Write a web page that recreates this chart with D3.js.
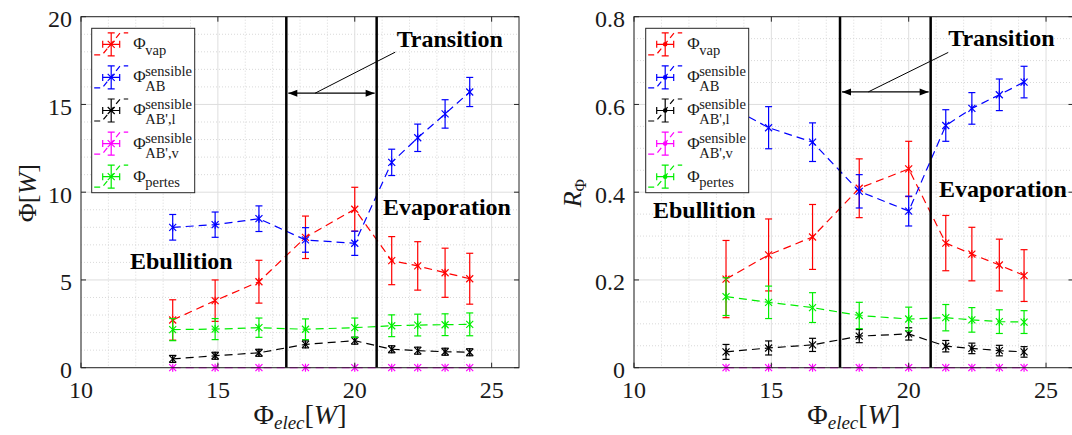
<!DOCTYPE html>
<html><head><meta charset="utf-8">
<script src="https://cdnjs.cloudflare.com/ajax/libs/d3/7.8.5/d3.min.js"></script>
<style>
body{margin:0;background:#fff}
svg{display:block}
text{fill:#1a1a1a}
</style>
</head><body>
<svg id="chart" width="1072" height="435" font-family="'Liberation Serif','Times New Roman','DejaVu Serif',serif"></svg>
<script>
// ---------- data ----------
const xElec = [13.35, 14.9, 16.5, 18.2, 20.0, 21.35, 22.3, 23.3, 24.2];

// left panel : Phi [W]
const phiVap       = [2.72, 3.82, 4.90, 7.43, 9.03, 6.10, 5.80, 5.41, 5.07];
const phiVapErr    = [1.15, 1.18, 1.22, 1.21, 1.25, 1.37, 1.38, 1.40, 1.45];
const phiAB        = [8.00, 8.15, 8.49, 7.28, 7.09, 11.70, 13.10, 14.46, 15.71];
const phiABErr     = [0.73, 0.72, 0.73, 0.70, 0.69, 0.75, 0.78, 0.81, 0.83];
const phiABl       = [0.50, 0.68, 0.85, 1.33, 1.54, 1.05, 0.97, 0.91, 0.88];
const phiABlErr    = [0.20, 0.20, 0.20, 0.20, 0.20, 0.20, 0.20, 0.20, 0.20];
const phiABv       = [0, 0, 0, 0, 0, 0, 0, 0, 0];
const phiABvErr    = [0, 0, 0, 0, 0, 0, 0, 0, 0];
const phiPertes    = [2.17, 2.20, 2.28, 2.19, 2.28, 2.39, 2.43, 2.45, 2.47];
const phiPertesErr = [0.63, 0.60, 0.55, 0.59, 0.55, 0.62, 0.62, 0.62, 0.65];

// right panel : R_Phi
const rVap       = [0.202, 0.257, 0.298, 0.409, 0.453, 0.284, 0.259, 0.234, 0.210];
const rVapErr    = [0.088, 0.082, 0.074, 0.067, 0.063, 0.063, 0.061, 0.059, 0.059];
const rAB        = [0.600, 0.547, 0.514, 0.402, 0.357, 0.552, 0.591, 0.622, 0.651];
const rABErr     = [0.050, 0.048, 0.044, 0.038, 0.034, 0.036, 0.036, 0.036, 0.036];
const rABl       = [0.036, 0.045, 0.052, 0.072, 0.077, 0.049, 0.044, 0.039, 0.036];
const rABlErr    = [0.017, 0.016, 0.015, 0.015, 0.014, 0.013, 0.012, 0.012, 0.012];
const rABv       = [0, 0, 0, 0, 0, 0, 0, 0, 0];
const rABvErr    = [0, 0, 0, 0, 0, 0, 0, 0, 0];
const rPertes    = [0.162, 0.149, 0.137, 0.119, 0.111, 0.114, 0.109, 0.105, 0.104];
const rPertesErr = [0.043, 0.037, 0.034, 0.030, 0.027, 0.030, 0.028, 0.027, 0.026];

const seriesColors = ["#ff0000", "#0000ff", "#000000", "#ff00ff", "#00ee00"];
const legendSup = ["", "sensible", "sensible", "sensible", ""];
const legendSub = ["vap", "AB", "AB',l", "AB',v", "pertes"];

const xDomain = [10, 26];
const xTicks = [10, 15, 20, 25];
const xTickLabels = ["10", "15", "20", "25"];
const yTicksLeft = [0, 5, 10, 15, 20];
const yTickLabelsLeft = ["0", "5", "10", "15", "20"];
const yTicksRight = [0, 0.2, 0.4, 0.6, 0.8];
const yTickLabelsRight = ["0", "0.2", "0.4", "0.6", "0.8"];
const transitionBounds = [17.5, 20.8];
const phaseLabels = ["Ebullition", "Transition", "Evaporation"];

// ---------- drawing ----------
const svg = d3.select("#chart");

function drawPanel(cfg) {
  const g = svg.append("g").attr("transform", `translate(${cfg.left},${cfg.top})`);
  const W = cfg.width, H = cfg.height;
  const x = d3.scaleLinear().domain(xDomain).range([0, W]);
  const y = d3.scaleLinear().domain([0, cfg.yMax]).range([H, 0]);

  // minor grid
  const xMinor = d3.range(11, 26).filter(v => v % 5 !== 0);
  g.selectAll(".xm").data(xMinor).join("line")
    .attr("x1", d => x(d)).attr("x2", d => x(d)).attr("y1", 0).attr("y2", H)
    .attr("stroke", "#cfcfcf").attr("stroke-width", 0.8).attr("stroke-dasharray", "1,2");
  g.selectAll(".ym").data(cfg.yMinor).join("line")
    .attr("x1", 0).attr("x2", W).attr("y1", d => y(d)).attr("y2", d => y(d))
    .attr("stroke", "#cfcfcf").attr("stroke-width", 0.8).attr("stroke-dasharray", "1,2");
  // major grid
  g.selectAll(".xg").data(xTicks).join("line")
    .attr("x1", d => x(d)).attr("x2", d => x(d)).attr("y1", 0).attr("y2", H)
    .attr("stroke", "#dedede").attr("stroke-width", 1);
  g.selectAll(".yg").data(cfg.yTicks).join("line")
    .attr("x1", 0).attr("x2", W).attr("y1", d => y(d)).attr("y2", d => y(d))
    .attr("stroke", "#dedede").attr("stroke-width", 1);

  // series
  cfg.series.forEach((s, k) => {
    const col = seriesColors[k];
    const pts = xElec.map((xv, i) => ({x: xv, y: s.v[i], e: s.e[i]}));
    g.append("path").datum(pts)
      .attr("d", d3.line().x(d => x(d.x)).y(d => y(d.y)))
      .attr("fill", "none").attr("stroke", col).attr("stroke-width", 1.2)
      .attr("stroke-dasharray", "8,5");
    const eb = g.append("g").attr("stroke", col).attr("stroke-width", 1.2).attr("fill", "none");
    pts.forEach(p => {
      if (p.e > 0) {
        const cx = x(p.x), y1 = y(p.y - p.e), y2 = y(p.y + p.e);
        eb.append("line").attr("x1", cx).attr("x2", cx).attr("y1", y1).attr("y2", y2);
        eb.append("line").attr("x1", cx - 3.5).attr("x2", cx + 3.5).attr("y1", y1).attr("y2", y1);
        eb.append("line").attr("x1", cx - 3.5).attr("x2", cx + 3.5).attr("y1", y2).attr("y2", y2);
      }
      const cx = x(p.x), cy = y(p.y), m = 3.5;
      eb.append("line").attr("x1", cx - m).attr("x2", cx + m).attr("y1", cy - m).attr("y2", cy + m);
      eb.append("line").attr("x1", cx - m).attr("x2", cx + m).attr("y1", cy + m).attr("y2", cy - m);
      eb.append("line").attr("x1", cx).attr("x2", cx).attr("y1", cy - m - 0.5).attr("y2", cy + m + 0.5);
    });
  });

  // transition lines
  g.selectAll(".tl").data(transitionBounds).join("line")
    .attr("x1", d => x(d)).attr("x2", d => x(d)).attr("y1", 0).attr("y2", H)
    .attr("stroke", "#000").attr("stroke-width", 2.5);

  // double arrow
  const ay = y(cfg.arrowY), ax1 = x(transitionBounds[0]) + 2, ax2 = x(transitionBounds[1]) - 2;
  g.append("line").attr("x1", ax1).attr("x2", ax2).attr("y1", ay).attr("y2", ay)
    .attr("stroke", "#000").attr("stroke-width", 1.2);
  g.append("path").attr("d", `M${ax1},${ay} l9,-3.5 l0,7 Z M${ax2},${ay} l-9,-3.5 l0,7 Z`).attr("fill", "#000");
  g.append("line")
    .attr("x1", x(cfg.pointer[0])).attr("y1", y(cfg.pointer[1]))
    .attr("x2", x(cfg.pointer[2])).attr("y2", y(cfg.pointer[3]))
    .attr("stroke", "#000").attr("stroke-width", 1);

  // phase labels
  cfg.labels.forEach((l, i) => {
    g.append("text").attr("x", x(l[0])).attr("y", y(l[1]))
      .attr("font-size", 24).attr("font-weight", "bold").style("fill", "#000")
      .text(phaseLabels[i]);
  });

  // box + ticks
  g.append("rect").attr("x", 0).attr("y", 0).attr("width", W).attr("height", H)
    .attr("fill", "none").attr("stroke", "#262626").attr("stroke-width", 1);
  const tk = g.append("g").attr("stroke", "#262626").attr("stroke-width", 1);
  xTicks.forEach(t => {
    tk.append("line").attr("x1", x(t)).attr("x2", x(t)).attr("y1", H).attr("y2", H - 5);
    tk.append("line").attr("x1", x(t)).attr("x2", x(t)).attr("y1", 0).attr("y2", 5);
  });
  cfg.yTicks.forEach(t => {
    tk.append("line").attr("x1", 0).attr("x2", 5).attr("y1", y(t)).attr("y2", y(t));
    tk.append("line").attr("x1", W).attr("x2", W - 5).attr("y1", y(t)).attr("y2", y(t));
  });

  // tick labels
  g.selectAll(".xt").data(xTicks).join("text")
    .attr("x", d => x(d)).attr("y", H + 30.5).attr("text-anchor", "middle")
    .attr("font-size", 24).text((d, i) => xTickLabels[i]);
  g.selectAll(".yt").data(cfg.yTicks).join("text")
    .attr("x", -9).attr("y", d => y(d) + 10.5).attr("text-anchor", "end")
    .attr("font-size", 24).text((d, i) => cfg.yTickLabels[i]);

  // x label
  const xl = g.append("text").attr("x", W / 2).attr("y", 407).attr("text-anchor", "middle");
  xl.append("tspan").attr("font-size", 28).text("Φ");
  xl.append("tspan").attr("font-size", 19).attr("font-style", "italic").attr("dy", 5).text("elec");
  xl.append("tspan").attr("font-size", 28).attr("dy", -5).text("[");
  xl.append("tspan").attr("font-size", 28).attr("font-style", "italic").text("W");
  xl.append("tspan").attr("font-size", 28).text("]");

  // y label
  const yl = g.append("text").attr("text-anchor", "middle")
    .attr("transform", `translate(${cfg.yLabelX},${H / 2 + 1}) rotate(-90)`);
  cfg.yLabel(yl);

  // legend
  const lg = g.append("g").attr("transform", `translate(${cfg.legend[0]},${cfg.legend[1]})`);
  lg.append("rect").attr("x", 0).attr("y", 0).attr("width", 103).attr("height", 164.4)
    .attr("fill", "#fff").attr("stroke", "#262626").attr("stroke-width", 1);
  seriesColors.forEach((col, k) => {
    const cx = 19.5, cy = 16 + k * 33.1;
    const ic = lg.append("g").attr("stroke", col).attr("stroke-width", 1.2).attr("fill", "none");
    ic.append("path").attr("d", `M${cx - 17},${cy + 10.5} L${cx - 9},${cy + 10.5} L${cx + 9},${cy - 11.5} L${cx + 17},${cy - 11.5}`)
      .attr("stroke-dasharray", "6,4");
    ic.append("path").attr("d",
      `M${cx},${cy - 11.5} V${cy + 11.5} M${cx - 3.5},${cy - 11.5} H${cx + 3.5} M${cx - 3.5},${cy + 11.5} H${cx + 3.5}` +
      `M${cx - 8.5},${cy} H${cx + 8.5} M${cx - 8.5},${cy - 3.5} V${cy + 3.5} M${cx + 8.5},${cy - 3.5} V${cy + 3.5}`);
    if (cfg.legendDot) {
      lg.append("circle").attr("cx", cx).attr("cy", cy).attr("r", 2.3).attr("fill", col);
    } else {
      ic.append("path").attr("d", `M${cx - 3.5},${cy - 3.5} L${cx + 3.5},${cy + 3.5} M${cx - 3.5},${cy + 3.5} L${cx + 3.5},${cy - 3.5}`);
    }
    lg.append("text").attr("x", 41.5).attr("y", cy + 5).attr("font-size", 17).text("Φ");
    if (legendSup[k]) {
      lg.append("text").attr("x", 53.5).attr("y", cy - 1).attr("font-size", 14.5).text(legendSup[k]);
      lg.append("text").attr("x", 53.5).attr("y", cy + 14).attr("font-size", 14.5).text(legendSub[k]);
    } else {
      lg.append("text").attr("x", 53.5).attr("y", cy + 10.5).attr("font-size", 14.5).text(legendSub[k]);
    }
  });
}

drawPanel({
  left: 81, top: 16.7, width: 438, height: 351, yMax: 20,
  yTicks: yTicksLeft, yTickLabels: yTickLabelsLeft,
  yMinor: d3.range(1, 20).filter(v => v % 5 !== 0),
  series: [
    {v: phiVap, e: phiVapErr}, {v: phiAB, e: phiABErr}, {v: phiABl, e: phiABlErr},
    {v: phiABv, e: phiABvErr}, {v: phiPertes, e: phiPertesErr}
  ],
  arrowY: 15.64,
  pointer: [18.55, 15.64, 21.48, 17.98],
  labels: [[11.79, 5.62], [21.53, 18.3], [21.03, 8.7]],
  yLabelX: -45,
  yLabel: t => {
    t.append("tspan").attr("font-size", 26).text("Φ[");
    t.append("tspan").attr("font-size", 26).attr("font-style", "italic").text("W");
    t.append("tspan").attr("font-size", 26).text("]");
  },
  legend: [10.7, 11.6], legendDot: false
});

drawPanel({
  left: 634, top: 16.7, width: 439.5, height: 351, yMax: 0.8,
  yTicks: yTicksRight, yTickLabels: yTickLabelsRight,
  yMinor: d3.range(1, 16).filter(i => i % 4 !== 0).map(i => i * 0.05),
  series: [
    {v: rVap, e: rVapErr}, {v: rAB, e: rABErr}, {v: rABl, e: rABlErr},
    {v: rABv, e: rABvErr}, {v: rPertes, e: rPertesErr}
  ],
  arrowY: 0.6286,
  pointer: [18.53, 0.6286, 21.44, 0.7186],
  labels: [[10.69, 0.342], [21.44, 0.733], [21.1, 0.389]],
  yLabelX: -53,
  yLabel: t => {
    t.append("tspan").attr("font-size", 26).attr("font-style", "italic").text("R");
    t.append("tspan").attr("font-size", 17).attr("dy", 5).text("Φ");
  },
  legend: [11.7, 11.6], legendDot: true
});
</script>
</body></html>
